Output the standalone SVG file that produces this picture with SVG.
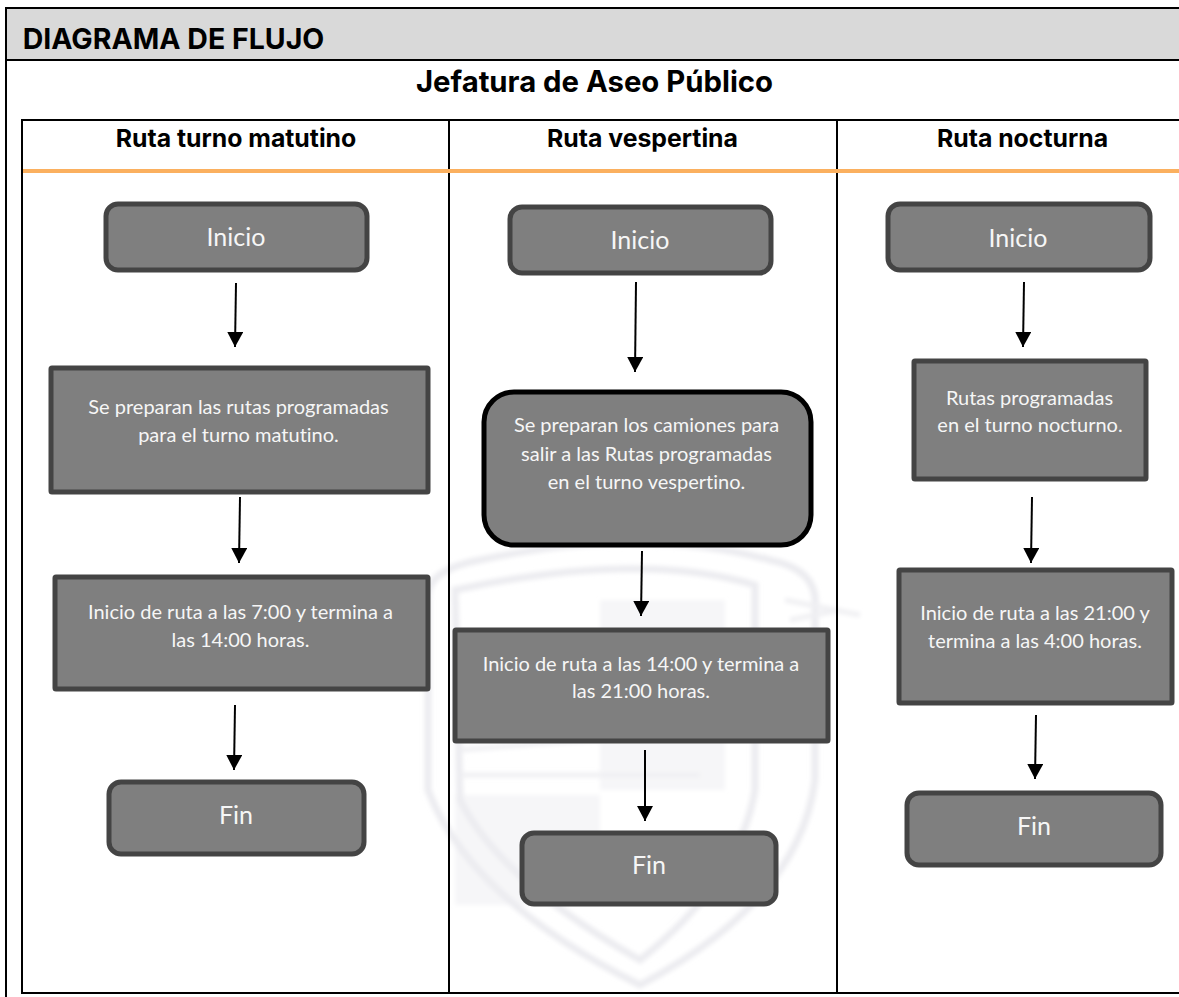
<svg xmlns="http://www.w3.org/2000/svg" width="1179" height="997" viewBox="0 0 1179 997">
<style>
text{font-family:Lato,"Open Sans",sans-serif;fill:#f6f6f6;text-anchor:middle;font-variant-ligatures:none}
.h{font-family:Inter,"Liberation Sans",sans-serif;font-weight:700;fill:#000}
.b{fill:#7f7f7f;stroke:#444;stroke-width:5}
.t{font-size:20px}.l{font-size:25px}
.a{stroke:#000;stroke-width:2;fill:none;marker-end:url(#m)}
.g{fill:none;stroke:#000;stroke-width:2}
.w{fill:none;stroke:#ececf0;stroke-width:7}
</style>
<defs><marker id="m" markerUnits="userSpaceOnUse" markerWidth="16" markerHeight="17" refX="15" refY="8" orient="auto"><path d="M0 0L15 8L0 16Z" fill="#000"/></marker>
<filter id="bl" x="-10%" y="-10%" width="120%" height="120%"><feGaussianBlur stdDeviation="2"/></filter></defs>
<rect width="1179" height="997" fill="#fff"/>
<g id="watermark" filter="url(#bl)">
<path d="M455 795H600V905H455ZM600 600H725V790H600Z" fill="#f6f6f8"/>
<path class="w" d="M428 600Q425 570 480 560Q640 525 770 560Q820 570 815 610V780Q800 900 640 985Q470 900 428 790Z"/>
<path class="w" d="M455 590Q640 550 755 585V790Q740 880 640 960Q500 880 460 800Z" stroke-width="5"/>
<path d="M460 750L650 735M460 775H700M785 600L860 615M790 620L840 610" stroke="#f0f0f3" stroke-width="5" fill="none"/>
</g>
<g id="frame">
<rect x="6" y="8" width="1173" height="52" fill="#d9d9d9"/>
<path class="g" d="M1179 8H6V997M6 60H1179"/>
<text class="h" x="173.500" y="49" font-size="28.500">DIAGRAMA DE FLUJO</text>
<text class="h" x="594.500" y="92" font-size="29.300">Jefatura de Aseo Público</text>
<path class="g" d="M1179 120H22V993H1179M449 120V993M837 120V993"/>
<path d="M23 171H1179" stroke="#fbb05f" stroke-width="4"/>
<text class="h" x="236" y="147" font-size="24.800">Ruta turno matutino</text>
<text class="h" x="642.500" y="147" font-size="24.800">Ruta vespertina</text>
<text class="h" x="1022.500" y="147" font-size="24.800">Ruta nocturna</text>
</g>
<g id="connectors">
<path class="a" d="M236 283L235 347"/><path class="a" d="M240 497L239 563"/><path class="a" d="M235 705L234 770"/>
<path class="a" d="M636 282L635 372"/><path class="a" d="M642 551L641 616"/><path class="a" d="M645 750L645 821"/>
<path class="a" d="M1024 282L1023 347"/><path class="a" d="M1032 497L1031 563"/><path class="a" d="M1036 715L1035 779"/>
</g>
<g id="n1"><rect class="b" x="106" y="204" width="261" height="66" rx="12"/><text class="l" x="236" y="246">Inicio</text></g>
<g id="n2"><rect class="b" x="51" y="368" width="377" height="124" rx="1"/><text class="t" x="238.500" y="414">Se preparan las rutas programadas</text><text class="t" x="238.500" y="442">para el turno matutino.</text></g>
<g id="n3"><rect class="b" x="55" y="577" width="373" height="112" rx="1"/><text class="t" x="240.500" y="619">Inicio de ruta a las 7:00 y termina a</text><text class="t" x="240.500" y="647">las 14:00 horas.</text></g>
<g id="n4"><rect class="b" x="109" y="782" width="255" height="72" rx="12"/><text class="l" x="236" y="824">Fin</text></g>
<g id="n5"><rect class="b" x="510" y="207" width="261" height="66" rx="12"/><text class="l" x="640" y="249">Inicio</text></g>
<g id="n6"><rect x="484" y="392" width="327" height="153" rx="30" fill="#7f7f7f" stroke="#000" stroke-width="5"/><text class="t" x="646.500" y="432">Se preparan los camiones para</text><text class="t" x="646.500" y="461">salir a las Rutas programadas</text><text class="t" x="646.500" y="489">en el turno vespertino.</text></g>
<g id="n7"><rect class="b" x="455" y="630" width="373" height="111" rx="1"/><text class="t" x="641" y="671">Inicio de ruta a las 14:00 y termina a</text><text class="t" x="641" y="698">las 21:00 horas.</text></g>
<g id="n8"><rect class="b" x="522" y="833" width="254" height="71" rx="12"/><text class="l" x="649" y="874">Fin</text></g>
<g id="n9"><rect class="b" x="888" y="204" width="262" height="66" rx="12"/><text class="l" x="1018" y="247">Inicio</text></g>
<g id="n10"><rect class="b" x="914" y="361" width="232" height="118" rx="1"/><text class="t" x="1029.500" y="405">Rutas programadas</text><text class="t" x="1030" y="432">en el turno nocturno.</text></g>
<g id="n11"><rect class="b" x="899" y="570" width="273" height="133" rx="1"/><text class="t" x="1035" y="620">Inicio de ruta a las 21:00 y</text><text class="t" x="1035" y="648">termina a las 4:00 horas.</text></g>
<g id="n12"><rect class="b" x="907" y="793" width="254" height="72" rx="12"/><text class="l" x="1034" y="835">Fin</text></g>
</svg>
